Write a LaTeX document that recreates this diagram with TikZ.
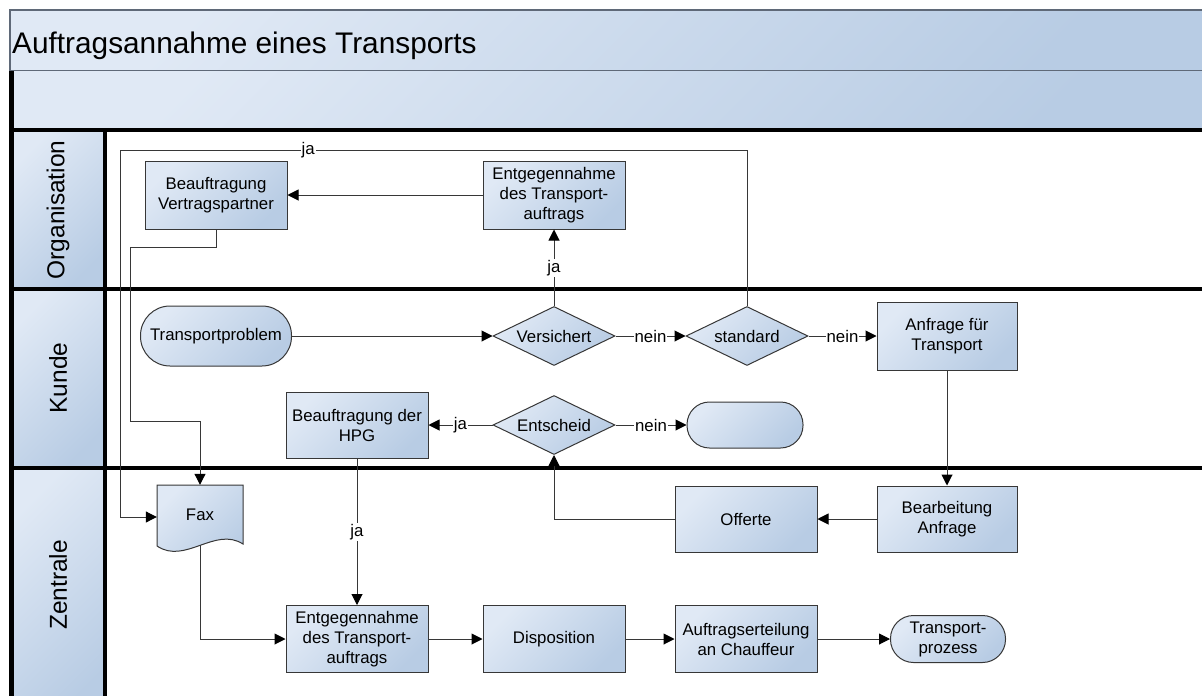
\documentclass[tikz,border=0pt]{standalone}
\usepackage{fontspec}
\setmainfont{Liberation Sans}
\usetikzlibrary{arrows.meta,shapes.geometric}
\definecolor{fillL}{RGB}{224,233,245}
\definecolor{fillD}{RGB}{184,204,228}
\definecolor{edgeC}{RGB}{55,55,55}
\definecolor{lineC}{RGB}{55,55,55}
\definecolor{bandC}{RGB}{95,105,120}
\newcommand\nfont{\fontsize{16.8}{20}\selectfont}
\newcommand\lfont{\fontsize{24.5}{28}\selectfont}
\newcommand\tfont{\fontsize{29.8}{34}\selectfont}
\tikzset{
  grad/.style={top color=fillL, bottom color=fillD, shading angle=45},
  shapebase/.style={draw=edgeC, line width=1pt, grad, font=\nfont, align=center, inner sep=2pt},
  proc/.style={shapebase, rectangle, minimum width=142pt, minimum height=67pt},
  dec/.style={shapebase, diamond, aspect=2, minimum width=122pt, minimum height=59pt, inner sep=0pt},
  term/.style={shapebase, rectangle, rounded corners=#1},
  conn/.style={draw=lineC, line width=1pt},
  arr/.style={conn, -{Triangle[length=11pt,width=11pt,color=black]}},
  lbl/.style={fill=white, inner sep=1pt, font=\nfont, text=black},
  laneline/.style={line width=4.5pt, draw=black},
  lanelabel/.style={rotate=90, font=\lfont},
}
\begin{document}
\begin{tikzpicture}[x=1pt,y=-1pt]
\useasboundingbox (0,0) rectangle (1202,696);
\clip (0,0) rectangle (1202,696);
% title band
\path[grad] (10,10) rectangle (1220,71);
\draw[bandC, line width=1.5pt] (1220,10) -- (10,10) -- (10,71) -- (1220,71);
\node[font=\tfont, anchor=base west, inner sep=0] (title) at (12,53) {Auftragsannahme eines Transports};
% second band
\path[grad] (11.5,71) rectangle (1220,130);
% lane header cells
\path[grad] (11.5,130) rectangle (105,289);
\path[grad] (11.5,289) rectangle (105,468);
\path[grad] (11.5,468) rectangle (105,720);
% lane lines
\draw[laneline] (11.5,71) -- (11.5,720);
\draw[laneline] (105,130) -- (105,720);
\draw[laneline] (9.5,130) -- (1220,130);
\draw[laneline] (9.5,289) -- (1220,289);
\draw[laneline] (9.5,468) -- (1220,468);
% lane labels
\node[lanelabel] (lo) at (58,210) {Organisation};
\node[lanelabel] (lk) at (58,378) {Kunde};
\node[lanelabel] (lz) at (58,585) {Zentrale};

% nodes: Organisation
\node[proc, minimum height=68pt] (bv) at (216,195) {Beauftragung\\Vertragspartner};
\node[proc, minimum height=68pt] (et) at (554,195) {Entgegennahme\\des Transport-\\auftrags};
% Kunde
\node[term=29.5pt, minimum width=151pt, minimum height=60pt] (tp) at (216,336) {Transportproblem};
\node[dec] (vs) at (554,336) {Versichert};
\node[dec] (st) at (747,336) {standard};
\node[proc, minimum width=140pt, minimum height=68pt] (an) at (947,336) {Anfrage für\\Transport};
\node[proc, minimum height=66pt] (hpg) at (357,425) {Beauftragung der\\HPG};
\node[dec] (en) at (554,425) {Entscheid};
\node[term=22.5pt, minimum width=116pt, minimum height=46pt] (emp) at (745,425) {};
% Zentrale
\path[grad, draw=edgeC, line width=1pt] (157,485) -- (243,485) -- (243,544)
  .. controls (215,526) and (185,565) .. (157,546) -- cycle;
\node[font=\nfont, minimum width=86pt, minimum height=64pt, inner sep=0pt] (fax) at (200,517) {\raisebox{4pt}{Fax}};
\coordinate (faxb) at (200,545);
\node[proc, minimum height=66pt] (of) at (746,519) {Offerte};
\node[proc, minimum width=140pt, minimum height=66pt] (ba) at (947,519) {Bearbeitung\\Anfrage};
\node[proc] (eb) at (357,639) {Entgegennahme\\des Transport-\\auftrags};
\node[proc] (di) at (554,639) {Disposition};
\node[proc] (au) at (746,639) {Auftragserteilung\\an Chauffeur};
\node[term=23pt, minimum width=115pt, minimum height=47pt] (tpz) at (948,639) {Transport-\\prozess};

% connectors
\draw[arr] (tp.east) -- (vs.west);
\draw[arr] (vs.east) -- node[lbl]{nein} (st.west);
\draw[arr] (st.east) -- node[lbl]{nein} (an.west);
\draw[arr] (vs.north) -- node[lbl]{ja} (et.south);
\draw[arr] (et.west) -- (bv.east);
\draw[arr] (st.north) |- node[lbl, pos=0.85]{ja} (120,150) |- (fax.west);
\draw[arr] (bv.south) -- ++(0,18) -| (130,421) -| (fax.north);
\draw[arr] (an.south) -- (ba.north);
\draw[arr] (ba.west) -- (of.east);
\draw[arr] (of.west) -| (en.south);
\draw[arr] (en.west) -- node[lbl]{ja} (hpg.east);
\draw[arr] (en.east) -- node[lbl]{nein} (emp.west);
\draw[arr] (hpg.south) -- node[lbl]{ja} (eb.north);
\draw[arr] (faxb) |- (eb.west);
\draw[arr] (eb.east) -- (di.west);
\draw[arr] (di.east) -- (au.west);
\draw[arr] (au.east) -- (tpz.west);
\end{tikzpicture}
\end{document}
